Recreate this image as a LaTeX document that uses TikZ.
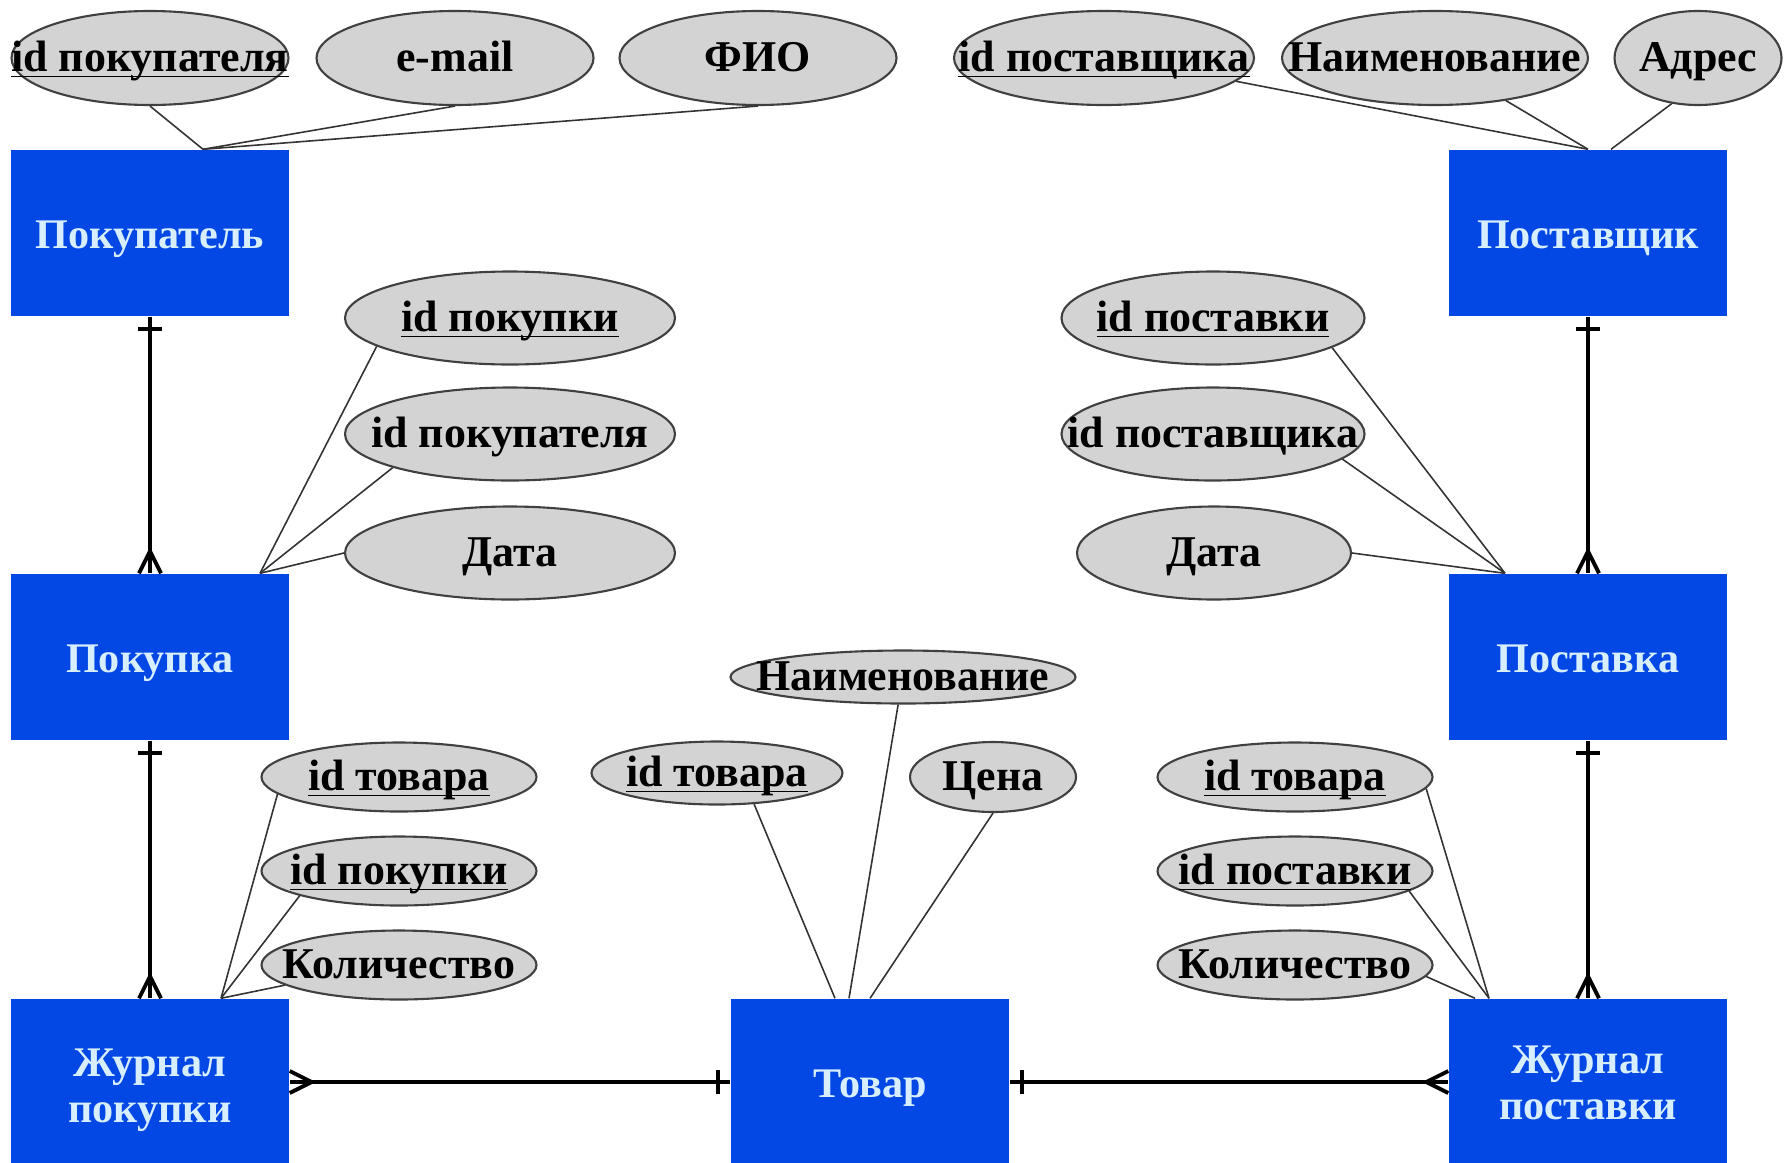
\documentclass[tikz,border=0pt]{standalone}
\usepackage{fontspec}
\setmainfont{Liberation Serif}
\usepackage{xcolor}
\usetikzlibrary{shapes,positioning,decorations.markings}
\definecolor{entblue}{RGB}{3,72,228}
\definecolor{enttext}{RGB}{215,238,255}
\definecolor{attrgray}{RGB}{211,211,211}
\newcommand{\attrtxt}[1]{\makebox[0pt]{\raisebox{-0.13em}{#1}}}
\newcommand{\keytxt}[1]{\makebox[0pt]{\raisebox{-0.13em}{\underline{\smash{#1}}}}}
\tikzset{ent/.style={rectangle,fill=entblue,text=enttext,minimum width=2.78cm,minimum height=1.66cm,align=center,font=\bfseries\fontsize{12}{13}\selectfont,execute at begin node={\rule[-0.23em]{0pt}{1.19em}}}}
\tikzset{ell/.style={ellipse,draw=black!75,fill=attrgray,line width=0.6pt,inner sep=0pt,text height=0.68em,text depth=0.22em,minimum height=0.69cm,font=\bfseries\fontsize{12.5}{14}\selectfont}}
\tikzset{attr/.style={draw=black!80,line width=0.45pt}}
\tikzset{rel/.style={line width=1.1pt,postaction={decorate},decoration={markings,
    mark=at position 0.12cm with {\draw[line width=1.1pt] (0,-0.12) -- (0,0.12);},
    mark=at position 1 with {\draw[line width=1.1pt] (-0.22,0) -- (0,0.11) (-0.22,0) -- (0,-0.11);}}}}

\begin{document}
\begin{tikzpicture}
    \useasboundingbox (0,0) rectangle (17.91,11.62);

    \node[ent] (pkl)at (1.50,9.29) {Покупатель};
    \node[ent] (psh)at (15.88,9.29) {Поставщик};
    \node[ent] (pk)at (1.50,5.05) {Покупка};
    \node[ent] (ps)at (15.88,5.05) {Поставка};
    \node[ent] (zhp)at (1.50,0.80) {\rule{0pt}{1.05em}Журнал\\покупки};
    \node[ent] (tv)at (8.70,0.80) {Товар};
    \node[ent] (zhps)at (15.88,0.80) {\rule{0pt}{0.92em}Журнал\\поставки};

    \node[ell,minimum width=2.77cm,minimum height=0.94cm] (a1)at (1.50,11.04) {\keytxt{id покупателя}};
    \node[ell,minimum width=2.77cm,minimum height=0.94cm] (a2)at (4.55,11.04) {\attrtxt{e-mail}};
    \node[ell,minimum width=2.77cm,minimum height=0.94cm] (a3)at (7.58,11.04) {\attrtxt{ФИО}};
    \node[ell,minimum width=3.00cm,minimum height=0.94cm] (b1)at (11.04,11.04) {\keytxt{id поставщика}};
    \node[ell,minimum width=3.06cm,minimum height=0.94cm] (b2)at (14.35,11.04) {\attrtxt{Наименование}};
    \node[ell,minimum width=1.67cm,minimum height=0.94cm] (b3)at (16.98,11.04) {\attrtxt{Адрес}};

    \node[ell,minimum width=3.30cm,minimum height=0.93cm] (c1)at (5.10,8.44) {\keytxt{id покупки}};
    \node[ell,minimum width=3.30cm,minimum height=0.93cm] (c2)at (5.10,7.28) {\attrtxt{id покупателя}};
    \node[ell,minimum width=3.30cm,minimum height=0.93cm] (c3)at (5.10,6.09) {\attrtxt{Дата}};
    \node[ell,minimum width=3.03cm,minimum height=0.93cm] (d1)at (12.13,8.44) {\keytxt{id поставки}};
    \node[ell,minimum width=3.03cm,minimum height=0.93cm] (d2)at (12.13,7.28) {\attrtxt{id поставщика}};
    \node[ell,minimum width=2.74cm,minimum height=0.93cm] (d3)at (12.14,6.09) {\attrtxt{Дата}};

    \node[ell,minimum width=3.45cm,minimum height=0.53cm] (t1)at (9.03,4.85) {\attrtxt{Наименование}};
    \node[ell,minimum width=2.51cm,minimum height=0.63cm] (t2)at (7.17,3.89) {\keytxt{id товара}};
    \node[ell,minimum width=1.66cm,minimum height=0.70cm] (t3)at (9.93,3.85) {\attrtxt{Цена}};

    \node[ell,minimum width=2.75cm] (e1)at (3.99,3.85) {\keytxt{id товара}};
    \node[ell,minimum width=2.75cm] (e2)at (3.99,2.91) {\keytxt{id покупки}};
    \node[ell,minimum width=2.75cm] (e3)at (3.99,1.97) {\attrtxt{Количество}};
    \node[ell,minimum width=2.75cm] (f1)at (12.95,3.85) {\keytxt{id товара}};
    \node[ell,minimum width=2.75cm] (f2)at (12.95,2.91) {\keytxt{id поставки}};
    \node[ell,minimum width=2.75cm] (f3)at (12.95,1.97) {\attrtxt{Количество}};

    \draw [attr] (a1.south) to [] ([xshift=0.53cm]pkl.north);
    \draw [attr] (a2.south) to [] ([xshift=0.53cm]pkl.north);
    \draw [attr] (a3.south) to [] ([xshift=0.53cm]pkl.north);
    \draw [attr] (b1.-10) to [] (psh.north);
    \draw [attr] (b2.-31) to [] (psh.north);
    \draw [attr] (b3.-120) to [] ([xshift=0.23cm]psh.north);
    \draw [attr] (c1.192) to [] ([xshift=1.10cm]pk.north);
    \draw [attr] (c2.196) to [] ([xshift=1.10cm]pk.north);
    \draw [attr] (c3.west) to [] ([xshift=1.10cm]pk.north);
    \draw [attr] (d1.-14) to [] ([xshift=-0.83cm]ps.north);
    \draw [attr] (d2.-11) to [] ([xshift=-0.83cm]ps.north);
    \draw [attr] (d3.east) to [] ([xshift=-0.83cm]ps.north);
    \draw [attr] (e1.188) to [] ([xshift=0.71cm]zhp.north);
    \draw [attr] (e2.194) to [] ([xshift=0.71cm]zhp.north);
    \draw [attr] (e3.190) to [] ([xshift=0.71cm]zhp.north);
    \draw [attr] (t1.-100) to [] ([xshift=-0.21cm]tv.north);
    \draw [attr] (t2.-40) to [] ([xshift=-0.35cm]tv.north);
    \draw [attr] (t3.south) to [] (tv.north);
    \draw [attr] (f1.-5) to [] ([xshift=-0.99cm]zhps.north);
    \draw [attr] (f2.-10) to [] ([xshift=-0.99cm]zhps.north);
    \draw [attr] (f3.-5) to [] ([xshift=-1.13cm]zhps.north);

    \draw [rel] (pkl) to [] (pk);
    \draw [rel] (psh) to [] (ps);
    \draw [rel] (pk) to [] (zhp);
    \draw [rel] (ps) to [] (zhps);
    \draw [rel] (tv) to [] (zhp);
    \draw [rel] (tv) to [] (zhps);
\end{tikzpicture}
\end{document}
